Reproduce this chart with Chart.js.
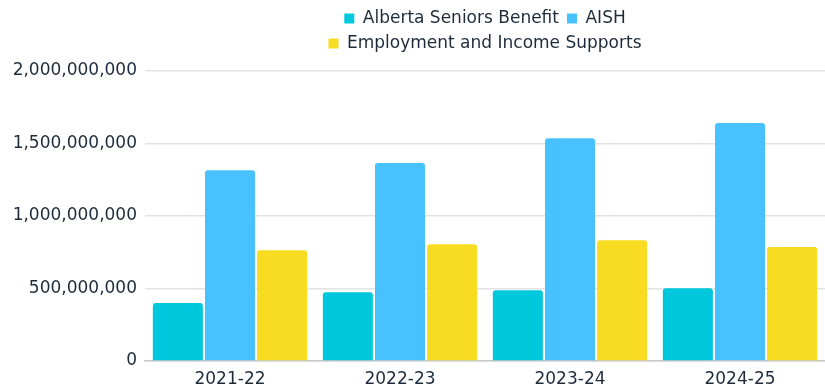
<!DOCTYPE html>
<html>
<head>
<meta charset="utf-8">
<script src="https://cdn.jsdelivr.net/npm/chart.js@4.4.1/dist/chart.umd.min.js"></script>
<style>
html,body{margin:0;padding:0;background:#fff;}
#wrap{width:825px;height:390px;}
</style>
</head>
<body>
<div id="wrap"><canvas id="c" width="825" height="390"></canvas></div>
<script>
const categories = ["2021-22", "2022-23", "2023-24", "2024-25"];
const seniorsBenefit = [400000000, 474000000, 488000000, 501000000];
const aish = [1315000000, 1366000000, 1536000000, 1641000000];
const incomeSupports = [763000000, 805000000, 832000000, 786000000];
const seriesNames = ["Alberta Seniors Benefit", "AISH", "Employment and Income Supports"];
const yTicks = [0, 500000000, 1000000000, 1500000000, 2000000000];

const FONT = "'DejaVu Sans', sans-serif";
const TXT = "#1e2b3a";

// Wrap the legend into two rows (as in the reference) by capping the width used for row-wrapping,
// and leave a little extra room below it.
const legendWrap = {
  id: 'legendWrap',
  beforeLayout(chart) {
    const lg = chart.legend;
    if (lg && !lg._wrapped) {
      const orig = lg.update.bind(lg);
      lg.update = (maxW, maxH, margins) => {
        orig(Math.min(maxW, 500), maxH, margins);
        lg.height += 9;
      };
      lg._wrapped = true;
    }
  }
};

new Chart(document.getElementById('c'), {
  type: 'bar',
  data: {
    labels: categories,
    datasets: [
      {label: seriesNames[0], data: seniorsBenefit, backgroundColor: '#00c8dc'},
      {label: seriesNames[1], data: aish, backgroundColor: '#48c2ff'},
      {label: seriesNames[2], data: incomeSupports, backgroundColor: '#f7dc22'}
    ]
  },
  plugins: [legendWrap],
  options: {
    responsive: false,
    animation: false,
    devicePixelRatio: 1,
    layout: {padding: {left: 0, right: 0, top: 2, bottom: 0}},
    datasets: {
      bar: {categoryPercentage: 0.92, barPercentage: 0.96, borderRadius: 3, borderSkipped: 'bottom'}
    },
    plugins: {
      legend: {
        position: 'top',
        fullSize: false,
        labels: {
          boxWidth: 10, boxHeight: 10, padding: 8,
          color: TXT,
          font: {family: FONT, size: 17}
        }
      },
      tooltip: {enabled: false}
    },
    scales: {
      x: {
        grid: {display: false, drawTicks: false},
        border: {display: true, color: '#c8c8c8', width: 1.5},
        ticks: {color: TXT, padding: 8, font: {family: FONT, size: 17}},
        afterFit: s => { s.height = 29; }
      },
      y: {
        min: 0, max: 2000000000,
        afterBuildTicks: s => { s.ticks = yTicks.map(v => ({value: v})); },
        grid: {color: '#e3e3e3', lineWidth: 1.5, drawTicks: false},
        border: {display: false},
        ticks: {
          color: TXT, padding: 8,
          font: {family: FONT, size: 17},
          callback: v => Number(v).toLocaleString('en-US')
        },
        afterFit: s => { s.width = 145; }
      }
    }
  }
});
</script>
</body>
</html>
